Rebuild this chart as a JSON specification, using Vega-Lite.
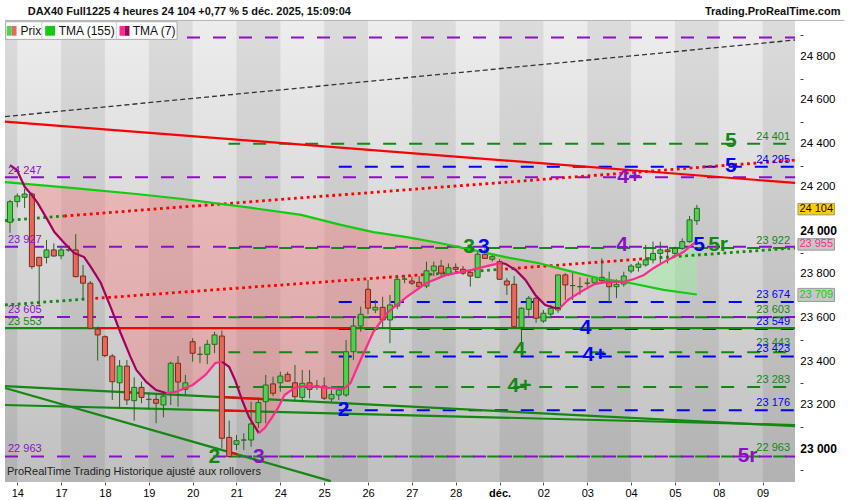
{
  "$schema": "https://vega.github.io/schema/vega-lite/v6.json",
  "width": 800,
  "height": 482,
  "autosize": {"type": "none"},
  "padding": {"left": 0, "top": 0, "right": 50, "bottom": 18},
  "background": "white",
  "datasets": {
    "bg": [{"t1": -0.68, "t2": 107.43}],
    "days": [
      {"d1": -0.68, "d2": 1}, {"d1": 7, "d2": 13}, {"d1": 19, "d2": 25}, {"d1": 31, "d2": 37},
      {"d1": 43, "d2": 49}, {"d1": 55, "d2": 61}, {"d1": 67, "d2": 73}, {"d1": 79, "d2": 85},
      {"d1": 91, "d2": 97}, {"d1": 103, "d2": 107.43}
    ],
    "ylab": [
      {"v": 23000, "text": "23 000"}, {"v": 23200, "text": "23 200"}, {"v": 23400, "text": "23 400"},
      {"v": 23600, "text": "23 600"}, {"v": 23800, "text": "23 800"}, {"v": 24000, "text": "24 000"},
      {"v": 24200, "text": "24 200"}, {"v": 24400, "text": "24 400"}, {"v": 24600, "text": "24 600"},
      {"v": 24800, "text": "24 800"}
    ],
    "band": [
      {"t": 1.7, "a": 24218, "b": 24218, "z": "zR"}, {"t": 2.97, "a": 24166, "b": 24214, "z": "zR"},
      {"t": 3.78, "a": 24129, "b": 24212, "z": "zR"}, {"t": 5.14, "a": 24051, "b": 24208, "z": "zR"},
      {"t": 6.08, "a": 23995, "b": 24205, "z": "zR"}, {"t": 7.43, "a": 23945, "b": 24201, "z": "zR"},
      {"t": 8.78, "a": 23899, "b": 24197, "z": "zR"}, {"t": 10.14, "a": 23880, "b": 24193, "z": "zR"},
      {"t": 11.08, "a": 23834, "b": 24190, "z": "zR"}, {"t": 12.43, "a": 23761, "b": 24185, "z": "zR"},
      {"t": 13.78, "a": 23650, "b": 24181, "z": "zR"}, {"t": 15.14, "a": 23531, "b": 24177, "z": "zR"},
      {"t": 16.49, "a": 23421, "b": 24173, "z": "zR"}, {"t": 18.65, "a": 23306, "b": 24165, "z": "zR"},
      {"t": 20, "a": 23269, "b": 24160, "z": "zR"}, {"t": 21.35, "a": 23255, "b": 24155, "z": "zR"},
      {"t": 22.7, "a": 23260, "b": 24150, "z": "zR"}, {"t": 25, "a": 23292, "b": 24141, "z": "zR"},
      {"t": 26.76, "a": 23338, "b": 24134, "z": "zR"}, {"t": 28.1, "a": 23393, "b": 24128, "z": "zR"},
      {"t": 29.05, "a": 23398, "b": 24124, "z": "zR"}, {"t": 30, "a": 23375, "b": 24119, "z": "zR"},
      {"t": 30.8, "a": 23315, "b": 24116, "z": "zR"}, {"t": 31.76, "a": 23223, "b": 24112, "z": "zR"},
      {"t": 32.7, "a": 23145, "b": 24108, "z": "zR"}, {"t": 34.05, "a": 23071, "b": 24102, "z": "zR"},
      {"t": 34.86, "a": 23094, "b": 24098, "z": "zR"}, {"t": 35.8, "a": 23140, "b": 24094, "z": "zR"},
      {"t": 36.76, "a": 23191, "b": 24089, "z": "zR"}, {"t": 37.57, "a": 23246, "b": 24085, "z": "zR"},
      {"t": 38.9, "a": 23278, "b": 24078, "z": "zR"}, {"t": 40.27, "a": 23287, "b": 24071, "z": "zR"},
      {"t": 42.16, "a": 23283, "b": 24054, "z": "zR"}, {"t": 43.9, "a": 23278, "b": 24040, "z": "zR"},
      {"t": 45.68, "a": 23274, "b": 24025, "z": "zR"}, {"t": 46.6, "a": 23301, "b": 24018, "z": "zR"},
      {"t": 47.97, "a": 23407, "b": 24008, "z": "zR"}, {"t": 48.92, "a": 23476, "b": 24001, "z": "zR"},
      {"t": 49.73, "a": 23536, "b": 23995, "z": "zR"}, {"t": 51.6, "a": 23623, "b": 23986, "z": "zR"},
      {"t": 54.3, "a": 23697, "b": 23972, "z": "zR"}, {"t": 57, "a": 23761, "b": 23956, "z": "zR"},
      {"t": 59.73, "a": 23798, "b": 23940, "z": "zR"}, {"t": 63.24, "a": 23821, "b": 23913, "z": "zR"},
      {"t": 65.95, "a": 23844, "b": 23893, "z": "zR"}, {"t": 67.84, "a": 23848, "b": 23880, "z": "zR"},
      {"t": 69.2, "a": 23821, "b": 23874, "z": "zR"}, {"t": 70.54, "a": 23775, "b": 23866, "z": "zR"},
      {"t": 71.89, "a": 23706, "b": 23856, "z": "zR"}, {"t": 73.24, "a": 23660, "b": 23846, "z": "zR"},
      {"t": 74.6, "a": 23646, "b": 23832, "z": "zR"}, {"t": 75.27, "a": 23646, "b": 23827, "z": "zR"},
      {"t": 76.35, "a": 23683, "b": 23817, "z": "zR"}, {"t": 78.1, "a": 23720, "b": 23803, "z": "zR"},
      {"t": 80, "a": 23756, "b": 23787, "z": "zR"}, {"t": 81.76, "a": 23766, "b": 23777, "z": "zR"},
      {"t": 84.05, "a": 23766, "b": 23765, "z": "zR"},
      {"t": 84.05, "a": 23766, "b": 23765, "z": "zG"}, {"t": 85.4, "a": 23779, "b": 23758, "z": "zG"},
      {"t": 86.76, "a": 23798, "b": 23749, "z": "zG"}, {"t": 88.1, "a": 23830, "b": 23739, "z": "zG"},
      {"t": 89.46, "a": 23857, "b": 23729, "z": "zG"}, {"t": 90.8, "a": 23880, "b": 23722, "z": "zG"},
      {"t": 92.16, "a": 23903, "b": 23716, "z": "zG"}, {"t": 94, "a": 23955, "b": 23708, "z": "zG"}
    ],
    "m155": [
      {"t": -0.68, "v": 24225}, {"t": 8.38, "v": 24198}, {"t": 17.3, "v": 24170}, {"t": 23.65, "v": 24147},
      {"t": 33.1, "v": 24106}, {"t": 39.86, "v": 24074}, {"t": 45.27, "v": 24028}, {"t": 49.73, "v": 23995},
      {"t": 54.32, "v": 23972}, {"t": 58.78, "v": 23945}, {"t": 63.24, "v": 23913}, {"t": 67.84, "v": 23880},
      {"t": 72.3, "v": 23853}, {"t": 75.95, "v": 23821}, {"t": 80.4, "v": 23784}, {"t": 84.86, "v": 23761},
      {"t": 89.46, "v": 23729}, {"t": 94, "v": 23708}
    ],
    "m7": [
      {"t": 0, "v": 24303, "s": "s1", "k": "dn"}, {"t": 0.95, "v": 24280, "s": "s1", "k": "dn"},
      {"t": 2.03, "v": 24202, "s": "s1", "k": "dn"}, {"t": 2.97, "v": 24166, "s": "s1", "k": "dn"},
      {"t": 3.78, "v": 24129, "s": "s1", "k": "dn"}, {"t": 5.14, "v": 24051, "s": "s1", "k": "dn"},
      {"t": 6.08, "v": 23995, "s": "s1", "k": "dn"}, {"t": 7.43, "v": 23945, "s": "s1", "k": "dn"},
      {"t": 8.78, "v": 23899, "s": "s1", "k": "dn"}, {"t": 10.14, "v": 23880, "s": "s1", "k": "dn"},
      {"t": 11.08, "v": 23834, "s": "s1", "k": "dn"}, {"t": 12.43, "v": 23761, "s": "s1", "k": "dn"},
      {"t": 13.78, "v": 23650, "s": "s1", "k": "dn"}, {"t": 15.14, "v": 23531, "s": "s1", "k": "dn"},
      {"t": 16.49, "v": 23421, "s": "s1", "k": "dn"}, {"t": 17.3, "v": 23361, "s": "s1", "k": "dn"},
      {"t": 18.65, "v": 23306, "s": "s1", "k": "dn"}, {"t": 20, "v": 23269, "s": "s1", "k": "dn"},
      {"t": 21.35, "v": 23255, "s": "s1", "k": "dn"},
      {"t": 21.35, "v": 23255, "s": "s2", "k": "up"}, {"t": 22.7, "v": 23260, "s": "s2", "k": "up"},
      {"t": 25, "v": 23292, "s": "s2", "k": "up"}, {"t": 26.76, "v": 23338, "s": "s2", "k": "up"},
      {"t": 28.1, "v": 23393, "s": "s2", "k": "up"}, {"t": 29.05, "v": 23398, "s": "s2", "k": "up"},
      {"t": 29.05, "v": 23398, "s": "s3", "k": "dn"}, {"t": 30, "v": 23375, "s": "s3", "k": "dn"},
      {"t": 30.8, "v": 23315, "s": "s3", "k": "dn"}, {"t": 31.76, "v": 23223, "s": "s3", "k": "dn"},
      {"t": 32.7, "v": 23145, "s": "s3", "k": "dn"}, {"t": 34.05, "v": 23071, "s": "s3", "k": "dn"},
      {"t": 34.05, "v": 23071, "s": "s4", "k": "up"}, {"t": 34.86, "v": 23094, "s": "s4", "k": "up"},
      {"t": 35.8, "v": 23140, "s": "s4", "k": "up"}, {"t": 36.76, "v": 23191, "s": "s4", "k": "up"},
      {"t": 37.57, "v": 23246, "s": "s4", "k": "up"}, {"t": 38.9, "v": 23278, "s": "s4", "k": "up"},
      {"t": 40.27, "v": 23287, "s": "s4", "k": "up"}, {"t": 42.16, "v": 23283, "s": "s4", "k": "up"},
      {"t": 43.9, "v": 23278, "s": "s4", "k": "up"}, {"t": 45.68, "v": 23274, "s": "s4", "k": "up"},
      {"t": 46.6, "v": 23301, "s": "s4", "k": "up"}, {"t": 47.97, "v": 23407, "s": "s4", "k": "up"},
      {"t": 48.92, "v": 23476, "s": "s4", "k": "up"}, {"t": 49.73, "v": 23536, "s": "s4", "k": "up"},
      {"t": 51.6, "v": 23623, "s": "s4", "k": "up"}, {"t": 54.3, "v": 23697, "s": "s4", "k": "up"},
      {"t": 57, "v": 23761, "s": "s4", "k": "up"}, {"t": 59.73, "v": 23798, "s": "s4", "k": "up"},
      {"t": 63.24, "v": 23821, "s": "s4", "k": "up"}, {"t": 65.95, "v": 23844, "s": "s4", "k": "up"},
      {"t": 67.3, "v": 23853, "s": "s4", "k": "up"},
      {"t": 67.3, "v": 23853, "s": "s5", "k": "dn"}, {"t": 67.84, "v": 23848, "s": "s5", "k": "dn"},
      {"t": 69.2, "v": 23821, "s": "s5", "k": "dn"}, {"t": 70.54, "v": 23775, "s": "s5", "k": "dn"},
      {"t": 71.89, "v": 23706, "s": "s5", "k": "dn"}, {"t": 73.24, "v": 23660, "s": "s5", "k": "dn"},
      {"t": 74.6, "v": 23646, "s": "s5", "k": "dn"}, {"t": 75.27, "v": 23646, "s": "s5", "k": "dn"},
      {"t": 75.27, "v": 23646, "s": "s6", "k": "up"}, {"t": 76.35, "v": 23683, "s": "s6", "k": "up"},
      {"t": 78.1, "v": 23720, "s": "s6", "k": "up"}, {"t": 80, "v": 23756, "s": "s6", "k": "up"},
      {"t": 81.76, "v": 23766, "s": "s6", "k": "up"}, {"t": 84.05, "v": 23766, "s": "s6", "k": "up"},
      {"t": 85.4, "v": 23779, "s": "s6", "k": "up"}, {"t": 86.76, "v": 23798, "s": "s6", "k": "up"},
      {"t": 88.1, "v": 23830, "s": "s6", "k": "up"}, {"t": 89.46, "v": 23857, "s": "s6", "k": "up"},
      {"t": 90.8, "v": 23880, "s": "s6", "k": "up"}, {"t": 92.16, "v": 23903, "s": "s6", "k": "up"},
      {"t": 94, "v": 23955, "s": "s6", "k": "up"}
    ],
    "lv": [
      {"v": 24890, "t1": -0.68, "t2": 107.43, "c": "P"}, {"v": 24247, "t1": -0.68, "t2": 107.43, "c": "P"},
      {"v": 23927, "t1": -0.68, "t2": 107.43, "c": "P"}, {"v": 23605, "t1": -0.68, "t2": 107.43, "c": "P"},
      {"v": 22963, "t1": -0.68, "t2": 107.43, "c": "P"},
      {"v": 24401, "t1": 29.9, "t2": 107.43, "c": "G"}, {"v": 23922, "t1": 29.9, "t2": 107.43, "c": "G"},
      {"v": 23603, "t1": 29.9, "t2": 107.43, "c": "G"}, {"v": 23443, "t1": 29.9, "t2": 107.43, "c": "G"},
      {"v": 23283, "t1": 29.9, "t2": 107.43, "c": "G"}, {"v": 22963, "t1": 29.9, "t2": 107.43, "c": "G"},
      {"v": 24295, "t1": 44.9, "t2": 107.43, "c": "B"}, {"v": 23674, "t1": 44.9, "t2": 107.43, "c": "B"},
      {"v": 23549, "t1": 44.9, "t2": 107.43, "c": "B"}, {"v": 23423, "t1": 44.9, "t2": 107.43, "c": "B"},
      {"v": 23176, "t1": 44.9, "t2": 107.43, "c": "B"}
    ],
    "tl": [
      {"t1": -0.68, "v1": 24503, "t2": 107.43, "v2": 24221, "c": "R"},
      {"t1": -0.68, "v1": 23287, "t2": 107.43, "v2": 23103, "c": "G"},
      {"t1": -0.68, "v1": 23200, "t2": 107.43, "v2": 23108, "c": "G"},
      {"t1": -0.68, "v1": 23278, "t2": 43.9, "v2": 22850, "c": "G"},
      {"t1": -0.68, "v1": 23553, "t2": 11.9, "v2": 23553, "c": "G"},
      {"t1": 11.9, "v1": 23553, "t2": 46.9, "v2": 23553, "c": "R"},
      {"t1": 46.9, "v1": 23553, "t2": 107.43, "v2": 23553, "c": "G"},
      {"t1": 28.78, "v1": 23237, "t2": 34.86, "v2": 23227, "c": "R"},
      {"t1": 28.78, "v1": 23175, "t2": 34.05, "v2": 23171, "c": "R"},
      {"t1": 30.1, "v1": 22982, "t2": 31.08, "v2": 22974, "c": "R"},
      {"t1": 15.81, "v1": 23259, "t2": 17.16, "v2": 23257, "c": "R"}
    ],
    "dotted": [
      {"t1": -0.68, "v1": 24048, "t2": 7.43, "v2": 24069, "c": "G"},
      {"t1": 7.43, "v1": 24069, "t2": 107.43, "v2": 24326, "c": "R"},
      {"t1": -0.68, "v1": 23660, "t2": 10.81, "v2": 23688, "c": "G"},
      {"t1": 10.81, "v1": 23688, "t2": 57.43, "v2": 23801, "c": "R"},
      {"t1": 57.43, "v1": 23801, "t2": 66.89, "v2": 23823, "c": "G"},
      {"t1": 66.89, "v1": 23823, "t2": 87.16, "v2": 23873, "c": "R"},
      {"t1": 87.16, "v1": 23873, "t2": 107.43, "v2": 23922, "c": "G"}
    ],
    "dashedK": [{"t1": -0.68, "v1": 24526, "t2": 107.43, "v2": 24878, "c": "K"}],
    "candles": [
      {"t": 0, "o": 24040, "h": 24143, "l": 23992, "c": 24135}, {"t": 1, "o": 24135, "h": 24173, "l": 24109, "c": 24161},
      {"t": 2, "o": 24155, "h": 24193, "l": 24106, "c": 24170}, {"t": 3, "o": 24170, "h": 24176, "l": 23825, "c": 23836},
      {"t": 4, "o": 23879, "h": 23880, "l": 23652, "c": 23840}, {"t": 5, "o": 23879, "h": 23959, "l": 23851, "c": 23913},
      {"t": 6, "o": 23913, "h": 23943, "l": 23882, "c": 23885}, {"t": 7, "o": 23886, "h": 23925, "l": 23870, "c": 23913},
      {"t": 8, "o": 23913, "h": 23920, "l": 23905, "c": 23913}, {"t": 9, "o": 23913, "h": 23986, "l": 23787, "c": 23790},
      {"t": 10, "o": 23793, "h": 23844, "l": 23683, "c": 23760}, {"t": 11, "o": 23760, "h": 23770, "l": 23548, "c": 23553},
      {"t": 12, "o": 23549, "h": 23560, "l": 23404, "c": 23522}, {"t": 13, "o": 23514, "h": 23520, "l": 23420, "c": 23427},
      {"t": 14, "o": 23425, "h": 23434, "l": 23223, "c": 23307}, {"t": 15, "o": 23302, "h": 23407, "l": 23189, "c": 23379},
      {"t": 16, "o": 23379, "h": 23407, "l": 23200, "c": 23223}, {"t": 17, "o": 23220, "h": 23327, "l": 23128, "c": 23281},
      {"t": 18, "o": 23281, "h": 23307, "l": 23208, "c": 23235}, {"t": 19, "o": 23226, "h": 23257, "l": 23180, "c": 23226},
      {"t": 20, "o": 23226, "h": 23254, "l": 23116, "c": 23208}, {"t": 21, "o": 23200, "h": 23261, "l": 23143, "c": 23241},
      {"t": 22, "o": 23257, "h": 23399, "l": 23200, "c": 23392}, {"t": 23, "o": 23392, "h": 23425, "l": 23192, "c": 23306},
      {"t": 24, "o": 23272, "h": 23338, "l": 23246, "c": 23302}, {"t": 25, "o": 23491, "h": 23507, "l": 23399, "c": 23438},
      {"t": 26, "o": 23433, "h": 23468, "l": 23392, "c": 23433}, {"t": 27, "o": 23433, "h": 23499, "l": 23388, "c": 23479},
      {"t": 28, "o": 23479, "h": 23537, "l": 23438, "c": 23522}, {"t": 29, "o": 23517, "h": 23542, "l": 23001, "c": 23047},
      {"t": 30, "o": 23051, "h": 23128, "l": 22962, "c": 22963}, {"t": 31, "o": 23019, "h": 23062, "l": 22993, "c": 23036},
      {"t": 32, "o": 23039, "h": 23070, "l": 22993, "c": 23039}, {"t": 33, "o": 23039, "h": 23215, "l": 23008, "c": 23113},
      {"t": 34, "o": 23119, "h": 23235, "l": 23093, "c": 23211}, {"t": 35, "o": 23215, "h": 23338, "l": 23116, "c": 23292},
      {"t": 36, "o": 23297, "h": 23330, "l": 23241, "c": 23254}, {"t": 37, "o": 23302, "h": 23353, "l": 23261, "c": 23333},
      {"t": 38, "o": 23341, "h": 23353, "l": 23307, "c": 23310}, {"t": 39, "o": 23302, "h": 23384, "l": 23223, "c": 23238},
      {"t": 40, "o": 23235, "h": 23361, "l": 23215, "c": 23300}, {"t": 41, "o": 23302, "h": 23361, "l": 23231, "c": 23272},
      {"t": 42, "o": 23287, "h": 23315, "l": 23269, "c": 23287}, {"t": 43, "o": 23287, "h": 23327, "l": 23223, "c": 23231},
      {"t": 44, "o": 23228, "h": 23269, "l": 23215, "c": 23249}, {"t": 45, "o": 23246, "h": 23287, "l": 23223, "c": 23269},
      {"t": 46, "o": 23246, "h": 23499, "l": 23238, "c": 23445}, {"t": 47, "o": 23445, "h": 23606, "l": 23407, "c": 23563},
      {"t": 48, "o": 23563, "h": 23652, "l": 23537, "c": 23617}, {"t": 49, "o": 23732, "h": 23775, "l": 23618, "c": 23645},
      {"t": 50, "o": 23637, "h": 23683, "l": 23622, "c": 23649}, {"t": 51, "o": 23649, "h": 23698, "l": 23553, "c": 23591},
      {"t": 52, "o": 23591, "h": 23706, "l": 23484, "c": 23660}, {"t": 53, "o": 23655, "h": 23798, "l": 23640, "c": 23778},
      {"t": 54, "o": 23779, "h": 23798, "l": 23760, "c": 23779}, {"t": 55, "o": 23770, "h": 23790, "l": 23752, "c": 23760},
      {"t": 56, "o": 23764, "h": 23793, "l": 23737, "c": 23744}, {"t": 57, "o": 23747, "h": 23859, "l": 23737, "c": 23817},
      {"t": 58, "o": 23817, "h": 23859, "l": 23793, "c": 23839}, {"t": 59, "o": 23839, "h": 23867, "l": 23793, "c": 23806},
      {"t": 60, "o": 23802, "h": 23851, "l": 23793, "c": 23831}, {"t": 61, "o": 23833, "h": 23851, "l": 23806, "c": 23824},
      {"t": 62, "o": 23824, "h": 23839, "l": 23798, "c": 23806}, {"t": 63, "o": 23810, "h": 23824, "l": 23744, "c": 23793},
      {"t": 64, "o": 23787, "h": 23905, "l": 23783, "c": 23893}, {"t": 65, "o": 23893, "h": 23920, "l": 23874, "c": 23874},
      {"t": 66, "o": 23870, "h": 23893, "l": 23859, "c": 23882}, {"t": 67, "o": 23859, "h": 23870, "l": 23775, "c": 23778},
      {"t": 68, "o": 23770, "h": 23783, "l": 23706, "c": 23752}, {"t": 69, "o": 23755, "h": 23793, "l": 23557, "c": 23560},
      {"t": 70, "o": 23557, "h": 23649, "l": 23443, "c": 23645}, {"t": 71, "o": 23640, "h": 23701, "l": 23609, "c": 23691},
      {"t": 72, "o": 23691, "h": 23698, "l": 23578, "c": 23599}, {"t": 73, "o": 23586, "h": 23637, "l": 23578, "c": 23622},
      {"t": 74, "o": 23618, "h": 23660, "l": 23606, "c": 23645}, {"t": 75, "o": 23637, "h": 23798, "l": 23624, "c": 23798},
      {"t": 76, "o": 23798, "h": 23806, "l": 23683, "c": 23752}, {"t": 77, "o": 23749, "h": 23813, "l": 23683, "c": 23749},
      {"t": 78, "o": 23744, "h": 23787, "l": 23706, "c": 23744}, {"t": 79, "o": 23760, "h": 23783, "l": 23744, "c": 23760},
      {"t": 80, "o": 23762, "h": 23787, "l": 23760, "c": 23787}, {"t": 81, "o": 23787, "h": 23874, "l": 23767, "c": 23771},
      {"t": 82, "o": 23775, "h": 23813, "l": 23668, "c": 23744}, {"t": 83, "o": 23744, "h": 23778, "l": 23691, "c": 23755},
      {"t": 84, "o": 23756, "h": 23813, "l": 23744, "c": 23793}, {"t": 85, "o": 23816, "h": 23848, "l": 23806, "c": 23839},
      {"t": 86, "o": 23833, "h": 23859, "l": 23813, "c": 23848}, {"t": 87, "o": 23844, "h": 23936, "l": 23836, "c": 23867},
      {"t": 88, "o": 23867, "h": 23951, "l": 23851, "c": 23897}, {"t": 89, "o": 23897, "h": 23951, "l": 23851, "c": 23913},
      {"t": 90, "o": 23913, "h": 23928, "l": 23851, "c": 23905}, {"t": 91, "o": 23897, "h": 23928, "l": 23882, "c": 23920},
      {"t": 92, "o": 23920, "h": 23966, "l": 23913, "c": 23951}, {"t": 93, "o": 23951, "h": 24069, "l": 23946, "c": 24051},
      {"t": 94, "o": 24047, "h": 24120, "l": 24028, "c": 24104}
    ],
    "llLeft": [
      {"t": -0.27, "v": 24276, "text": "24 247", "c": "P"}, {"t": -0.27, "v": 23959, "text": "23 927", "c": "P"},
      {"t": -0.27, "v": 23637, "text": "23 605", "c": "P"}, {"t": -0.27, "v": 23582, "text": "23 553", "c": "G"},
      {"t": -0.27, "v": 22998, "text": "22 963", "c": "P"}
    ],
    "llRight": [
      {"t": 106.75, "v": 24434, "text": "24 401", "c": "G"}, {"t": 106.75, "v": 24326, "text": "24 295", "c": "B"},
      {"t": 106.75, "v": 23955, "text": "23 922", "c": "G"}, {"t": 106.75, "v": 23706, "text": "23 674", "c": "B"},
      {"t": 106.75, "v": 23637, "text": "23 603", "c": "G"}, {"t": 106.75, "v": 23582, "text": "23 549", "c": "B"},
      {"t": 106.75, "v": 23484, "text": "23 443", "c": "G"}, {"t": 106.75, "v": 23457, "text": "23 423", "c": "B"},
      {"t": 106.75, "v": 23315, "text": "23 283", "c": "G"}, {"t": 106.75, "v": 23211, "text": "23 176", "c": "B"},
      {"t": 106.75, "v": 23001, "text": "22 963", "c": "G"}
    ],
    "waves": [
      {"t": 98.65, "v": 24414, "text": "5", "c": "G"}, {"t": 98.65, "v": 24299, "text": "5", "c": "B"},
      {"t": 84.73, "v": 24248, "text": "4+", "c": "P"}, {"t": 83.78, "v": 23936, "text": "4", "c": "P"},
      {"t": 94.32, "v": 23936, "text": "5", "c": "B"}, {"t": 96.9, "v": 23936, "text": "5r", "c": "G"},
      {"t": 62.83, "v": 23927, "text": "3", "c": "G"}, {"t": 64.85, "v": 23927, "text": "3", "c": "B"},
      {"t": 78.78, "v": 23554, "text": "4", "c": "B"}, {"t": 69.73, "v": 23453, "text": "4", "c": "G"},
      {"t": 79.99, "v": 23430, "text": "4+", "c": "B"}, {"t": 69.73, "v": 23287, "text": "4+", "c": "G"},
      {"t": 45.67, "v": 23177, "text": "2", "c": "B"}, {"t": 27.97, "v": 22961, "text": "2", "c": "G"},
      {"t": 34.05, "v": 22961, "text": "3", "c": "P"}, {"t": 100.94, "v": 22965, "text": "5r", "c": "P"}
    ],
    "swatch": [
      {"t1": -0.45, "t2": 0.23, "c": "cg"}, {"t1": 0.23, "t2": 0.9, "c": "cr"},
      {"t1": 4.82, "t2": 6.17, "c": "M155"},
      {"t1": 14.99, "t2": 15.67, "c": "up"}, {"t1": 15.67, "t2": 16.35, "c": "dn"}
    ],
    "legendText": [
      {"t": 1.44, "text": "Prix"}, {"t": 6.66, "text": "TMA (155)"}, {"t": 16.8, "text": "TMA (7)"}
    ],
    "legendSep": [{"t": 4.36}, {"t": 14.55}],
    "boxes": [
      {"v": 24101, "hi": 24127, "lo": 24074, "text": "24 104", "bc": "boxY", "tc": "T"},
      {"v": 23939, "hi": 23965, "lo": 23912, "text": "23 955", "bc": "boxG", "tc": "up"},
      {"v": 23706, "hi": 23736, "lo": 23676, "text": "23 709", "bc": "boxG", "tc": "M155"}
    ]
  },
  "layer": [
    {
      "data": {"name": "bg"},
      "mark": {
        "type": "rect",
        "color": {"gradient": "linear", "x1": 0, "y1": 0, "x2": 0, "y2": 1,
          "stops": [{"offset": 0, "color": "#efefef"}, {"offset": 1, "color": "#c0c0c0"}]}
      },
      "encoding": {
        "x": {"field": "t1", "type": "quantitative", "title": null,
          "scale": {"domain": [-0.68, 107.43], "nice": false, "zero": false},
          "axis": {
            "orient": "bottom", "title": null, "grid": false, "domain": false,
            "values": [1, 7, 13, 19, 25, 31, 37, 43, 49, 55, 61, 67, 73, 79, 85, 91, 97, 103],
            "labelExpr": "split('14,17,18,19,20,21,24,25,26,27,28,déc.,02,03,04,05,08,09', ',')[round((datum.value - 1) / 6)]",
            "tickSize": 3, "tickColor": "#555", "labelFontSize": 11, "labelColor": "#000",
            "labelFontWeight": {"condition": {"test": "datum.value === 67", "value": "bold"}, "value": "normal"},
            "labelPadding": 2, "labelFlush": false, "labelOverlap": false
          }},
        "x2": {"field": "t2"}
      }
    },
    {
      "data": {"name": "days"},
      "mark": {"type": "rect", "color": "#000000", "opacity": 0.07},
      "encoding": {
        "x": {"field": "d1", "type": "quantitative", "title": null},
        "x2": {"field": "d2"}
      }
    },
    {
      "data": {"name": "band"},
      "mark": {"type": "area", "opacity": 0.35},
      "encoding": {
        "x": {"field": "t", "type": "quantitative", "title": null},
        "y": {"field": "a", "type": "quantitative", "title": null},
        "y2": {"field": "b"},
        "color": {"field": "z", "type": "nominal", "legend": null,
          "scale": {"domain": ["P","G","B","R","K","M155","up","dn","zR","zG","cg","cr","boxY","boxG","T"],
            "range": ["#8a10c8","#138813","#0000ff","#ff0000","#333333","#11cc11","#ff2a8c","#a3005c","#ff7070","#8cff8c","#4fd14f","#e56a5c","#ffcc00","#c6c6c6","#111111"]}}
      }
    },
    {
      "data": {"name": "dashedK"},
      "mark": {"type": "rule", "strokeDash": [5, 3], "strokeWidth": 1.3},
      "encoding": {
        "x": {"field": "t1", "type": "quantitative", "title": null},
        "y": {"field": "v1", "type": "quantitative", "title": null},
        "x2": {"field": "t2"}, "y2": {"field": "v2"},
        "color": {"field": "c", "type": "nominal", "legend": null,
          "scale": {"domain": ["P","G","B","R","K","M155","up","dn","zR","zG","cg","cr","boxY","boxG","T"],
            "range": ["#8a10c8","#138813","#0000ff","#ff0000","#333333","#11cc11","#ff2a8c","#a3005c","#ff7070","#8cff8c","#4fd14f","#e56a5c","#ffcc00","#c6c6c6","#111111"]}}
      }
    },
    {
      "data": {"name": "lv"},
      "transform": [{"filter": "datum.c === 'G'"}],
      "mark": {"type": "rule", "strokeDash": [13, 13], "strokeDashOffset": 1.3, "strokeWidth": 2},
      "encoding": {
        "x": {"field": "t1", "type": "quantitative", "title": null},
        "x2": {"field": "t2"},
        "y": {"field": "v", "type": "quantitative", "title": null},
        "color": {"field": "c", "type": "nominal", "legend": null,
          "scale": {"domain": ["P","G","B","R","K","M155","up","dn","zR","zG","cg","cr","boxY","boxG","T"],
            "range": ["#8a10c8","#138813","#0000ff","#ff0000","#333333","#11cc11","#ff2a8c","#a3005c","#ff7070","#8cff8c","#4fd14f","#e56a5c","#ffcc00","#c6c6c6","#111111"]}}
      }
    },
    {
      "data": {"name": "lv"},
      "transform": [{"filter": "datum.c === 'B'"}],
      "mark": {"type": "rule", "strokeDash": [13, 13], "strokeDashOffset": 25.3, "strokeWidth": 2},
      "encoding": {
        "x": {"field": "t1", "type": "quantitative", "title": null},
        "x2": {"field": "t2"},
        "y": {"field": "v", "type": "quantitative", "title": null},
        "color": {"field": "c", "type": "nominal", "legend": null,
          "scale": {"domain": ["P","G","B","R","K","M155","up","dn","zR","zG","cg","cr","boxY","boxG","T"],
            "range": ["#8a10c8","#138813","#0000ff","#ff0000","#333333","#11cc11","#ff2a8c","#a3005c","#ff7070","#8cff8c","#4fd14f","#e56a5c","#ffcc00","#c6c6c6","#111111"]}}
      }
    },
    {
      "data": {"name": "lv"},
      "transform": [{"filter": "datum.c === 'P'"}],
      "mark": {"type": "rule", "strokeDash": [13, 13], "strokeDashOffset": 0, "strokeWidth": 2},
      "encoding": {
        "x": {"field": "t1", "type": "quantitative", "title": null},
        "x2": {"field": "t2"},
        "y": {"field": "v", "type": "quantitative", "title": null},
        "color": {"field": "c", "type": "nominal", "legend": null,
          "scale": {"domain": ["P","G","B","R","K","M155","up","dn","zR","zG","cg","cr","boxY","boxG","T"],
            "range": ["#8a10c8","#138813","#0000ff","#ff0000","#333333","#11cc11","#ff2a8c","#a3005c","#ff7070","#8cff8c","#4fd14f","#e56a5c","#ffcc00","#c6c6c6","#111111"]}}
      }
    },
    {
      "data": {"name": "tl"},
      "mark": {"type": "rule", "strokeWidth": 2.2},
      "encoding": {
        "x": {"field": "t1", "type": "quantitative", "title": null},
        "y": {"field": "v1", "type": "quantitative", "title": null},
        "x2": {"field": "t2"}, "y2": {"field": "v2"},
        "color": {"field": "c", "type": "nominal", "legend": null,
          "scale": {"domain": ["P","G","B","R","K","M155","up","dn","zR","zG","cg","cr","boxY","boxG","T"],
            "range": ["#8a10c8","#138813","#0000ff","#ff0000","#333333","#11cc11","#ff2a8c","#a3005c","#ff7070","#8cff8c","#4fd14f","#e56a5c","#ffcc00","#c6c6c6","#111111"]}}
      }
    },
    {
      "data": {"name": "dotted"},
      "mark": {"type": "rule", "strokeWidth": 2.8, "strokeDash": [2.8, 3.6]},
      "encoding": {
        "x": {"field": "t1", "type": "quantitative", "title": null},
        "y": {"field": "v1", "type": "quantitative", "title": null},
        "x2": {"field": "t2"}, "y2": {"field": "v2"},
        "color": {"field": "c", "type": "nominal", "legend": null,
          "scale": {"domain": ["P","G","B","R","K","M155","up","dn","zR","zG","cg","cr","boxY","boxG","T"],
            "range": ["#8a10c8","#138813","#0000ff","#ff0000","#333333","#11cc11","#ff2a8c","#a3005c","#ff7070","#8cff8c","#4fd14f","#e56a5c","#ffcc00","#c6c6c6","#111111"]}}
      }
    },
    {
      "data": {"name": "candles"},
      "mark": {"type": "rule", "color": "#2f5f25", "strokeWidth": 1},
      "encoding": {
        "x": {"field": "t", "type": "quantitative", "title": null},
        "y": {"field": "l", "type": "quantitative", "title": null,
          "scale": {"domain": [22846, 25062], "nice": false, "zero": false},
          "axis": {
            "orient": "right", "title": null, "grid": false, "domain": false, "labels": false,
            "values": [22900, 23000, 23100, 23200, 23300, 23400, 23500, 23600, 23700, 23800, 23900, 24000, 24100, 24200, 24300, 24400, 24500, 24600, 24700, 24800, 24900],
            "tickSize": 3, "tickColor": "#444"
          }},
        "y2": {"field": "h"}
      }
    },
    {
      "data": {"name": "candles"},
      "mark": {"type": "bar", "size": 5, "strokeWidth": 1},
      "encoding": {
        "x": {"field": "t", "type": "quantitative", "title": null},
        "y": {"field": "o", "type": "quantitative", "title": null},
        "y2": {"field": "c"},
        "fill": {"condition": {"test": "datum.c >= datum.o", "value": "#4fd14f"}, "value": "#e56a5c"},
        "stroke": {"condition": {"test": "datum.c >= datum.o", "value": "#276a22"}, "value": "#7a2a1e"}
      }
    },
    {
      "data": {"name": "m155"},
      "mark": {"type": "line", "color": "#11cc11", "strokeWidth": 2.2},
      "encoding": {
        "x": {"field": "t", "type": "quantitative", "title": null},
        "y": {"field": "v", "type": "quantitative", "title": null}
      }
    },
    {
      "data": {"name": "m7"},
      "mark": {"type": "line", "strokeWidth": 2.2},
      "encoding": {
        "x": {"field": "t", "type": "quantitative", "title": null},
        "y": {"field": "v", "type": "quantitative", "title": null},
        "detail": {"field": "s", "type": "nominal"},
        "color": {"field": "k", "type": "nominal", "legend": null,
          "scale": {"domain": ["P","G","B","R","K","M155","up","dn","zR","zG","cg","cr","boxY","boxG","T"],
            "range": ["#8a10c8","#138813","#0000ff","#ff0000","#333333","#11cc11","#ff2a8c","#a3005c","#ff7070","#8cff8c","#4fd14f","#e56a5c","#ffcc00","#c6c6c6","#111111"]}}
      }
    },
    {
      "data": {"name": "llLeft"},
      "mark": {"type": "text", "align": "left", "baseline": "middle", "fontSize": 11},
      "encoding": {
        "x": {"field": "t", "type": "quantitative", "title": null},
        "y": {"field": "v", "type": "quantitative", "title": null},
        "text": {"field": "text"},
        "color": {"field": "c", "type": "nominal", "legend": null,
          "scale": {"domain": ["P","G","B","R","K","M155","up","dn","zR","zG","cg","cr","boxY","boxG","T"],
            "range": ["#8a10c8","#138813","#0000ff","#ff0000","#333333","#11cc11","#ff2a8c","#a3005c","#ff7070","#8cff8c","#4fd14f","#e56a5c","#ffcc00","#c6c6c6","#111111"]}}
      }
    },
    {
      "data": {"name": "llRight"},
      "mark": {"type": "text", "align": "right", "baseline": "middle", "fontSize": 11},
      "encoding": {
        "x": {"field": "t", "type": "quantitative", "title": null},
        "y": {"field": "v", "type": "quantitative", "title": null},
        "text": {"field": "text"},
        "color": {"field": "c", "type": "nominal", "legend": null,
          "scale": {"domain": ["P","G","B","R","K","M155","up","dn","zR","zG","cg","cr","boxY","boxG","T"],
            "range": ["#8a10c8","#138813","#0000ff","#ff0000","#333333","#11cc11","#ff2a8c","#a3005c","#ff7070","#8cff8c","#4fd14f","#e56a5c","#ffcc00","#c6c6c6","#111111"]}}
      }
    },
    {
      "data": {"name": "waves"},
      "mark": {"type": "text", "align": "center", "baseline": "middle", "fontSize": 21, "fontWeight": "bold"},
      "encoding": {
        "x": {"field": "t", "type": "quantitative", "title": null},
        "y": {"field": "v", "type": "quantitative", "title": null},
        "text": {"field": "text"},
        "color": {"field": "c", "type": "nominal", "legend": null,
          "scale": {"domain": ["P","G","B","R","K","M155","up","dn","zR","zG","cg","cr","boxY","boxG","T"],
            "range": ["#8a10c8","#138813","#0000ff","#ff0000","#333333","#11cc11","#ff2a8c","#a3005c","#ff7070","#8cff8c","#4fd14f","#e56a5c","#ffcc00","#c6c6c6","#111111"]}}
      }
    },
    {
      "data": {"values": [{"note": "ProRealTime Trading  Historique ajusté aux rollovers"}]},
      "mark": {"type": "text", "align": "left", "baseline": "middle", "fontSize": 11, "color": "#222222"},
      "encoding": {
        "x": {"datum": -0.41, "type": "quantitative", "title": null},
        "y": {"datum": 22892, "type": "quantitative", "title": null},
        "text": {"field": "note"}
      }
    },
    {
      "data": {"name": "ylab"},
      "transform": [{"filter": "datum.v % 1000 != 0"}],
      "mark": {"type": "text", "align": "left", "baseline": "middle", "fontSize": 11.5, "color": "#000000"},
      "encoding": {
        "x": {"datum": 108.15, "type": "quantitative", "title": null},
        "y": {"field": "v", "type": "quantitative", "title": null},
        "text": {"field": "text"}
      }
    },
    {
      "data": {"name": "ylab"},
      "transform": [{"filter": "datum.v % 1000 == 0"}],
      "mark": {"type": "text", "align": "left", "baseline": "middle", "fontSize": 12, "fontWeight": "bold", "color": "#000000"},
      "encoding": {
        "x": {"datum": 108.15, "type": "quantitative", "title": null},
        "y": {"field": "v", "type": "quantitative", "title": null},
        "text": {"field": "text"}
      }
    },
    {
      "data": {"values": [{"a": 1}]},
      "mark": {"type": "rect", "color": "white"},
      "encoding": {
        "x": {"datum": -0.68, "type": "quantitative", "title": null},
        "x2": {"datum": 114.19},
        "y": {"datum": 24970, "type": "quantitative", "title": null},
        "y2": {"datum": 25062}
      }
    },
    {
      "data": {"values": [{"a": 1}]},
      "mark": {"type": "rule", "color": "#b5b5b5", "strokeWidth": 1},
      "encoding": {
        "x": {"datum": -0.68, "type": "quantitative", "title": null},
        "x2": {"datum": 114.19},
        "y": {"datum": 24968, "type": "quantitative", "title": null}
      }
    },
    {
      "data": {"values": [{"t": 2.43, "text": "DAX40 Full1225 4 heures 24 104 +0,77 % 5 déc. 2025, 15:09:04"}]},
      "mark": {"type": "text", "align": "left", "baseline": "middle", "fontSize": 11, "fontWeight": "bold", "color": "#111111"},
      "encoding": {
        "x": {"field": "t", "type": "quantitative", "title": null},
        "y": {"datum": 25007, "type": "quantitative", "title": null},
        "text": {"field": "text"}
      }
    },
    {
      "data": {"values": [{"t": 113.65, "text": "Trading.ProRealTime.com"}]},
      "mark": {"type": "text", "align": "right", "baseline": "middle", "fontSize": 11, "fontWeight": "bold", "color": "#111111"},
      "encoding": {
        "x": {"field": "t", "type": "quantitative", "title": null},
        "y": {"datum": 25007, "type": "quantitative", "title": null},
        "text": {"field": "text"}
      }
    },
    {
      "data": {"values": [{"a": 1}]},
      "mark": {"type": "rect", "fill": "white", "stroke": "#aaaaaa", "strokeWidth": 1},
      "encoding": {
        "x": {"datum": -0.6, "type": "quantitative", "title": null},
        "x2": {"datum": 22.87},
        "y": {"datum": 24962, "type": "quantitative", "title": null},
        "y2": {"datum": 24881}
      }
    },
    {
      "data": {"name": "legendSep"},
      "mark": {"type": "rule", "color": "#cccccc", "strokeWidth": 1},
      "encoding": {
        "x": {"field": "t", "type": "quantitative", "title": null},
        "y": {"datum": 24962, "type": "quantitative", "title": null},
        "y2": {"datum": 24881}
      }
    },
    {
      "data": {"name": "swatch"},
      "mark": {"type": "rect"},
      "encoding": {
        "x": {"field": "t1", "type": "quantitative", "title": null},
        "x2": {"field": "t2"},
        "y": {"datum": 24943, "type": "quantitative", "title": null},
        "y2": {"datum": 24898},
        "color": {"field": "c", "type": "nominal", "legend": null,
          "scale": {"domain": ["P","G","B","R","K","M155","up","dn","zR","zG","cg","cr","boxY","boxG","T"],
            "range": ["#8a10c8","#138813","#0000ff","#ff0000","#333333","#11cc11","#ff2a8c","#a3005c","#ff7070","#8cff8c","#4fd14f","#e56a5c","#ffcc00","#c6c6c6","#111111"]}}
      }
    },
    {
      "data": {"name": "legendText"},
      "mark": {"type": "text", "align": "left", "baseline": "middle", "fontSize": 12, "color": "#111111"},
      "encoding": {
        "x": {"field": "t", "type": "quantitative", "title": null},
        "y": {"datum": 24921, "type": "quantitative", "title": null},
        "text": {"field": "text"}
      }
    },
    {
      "data": {"name": "boxes"},
      "mark": {"type": "rect", "stroke": "#9a9a9a", "strokeWidth": 1},
      "encoding": {
        "x": {"datum": 107.83, "type": "quantitative", "title": null},
        "x2": {"datum": 112.84},
        "y": {"field": "hi", "type": "quantitative", "title": null},
        "y2": {"field": "lo"},
        "color": {"field": "bc", "type": "nominal", "legend": null,
          "scale": {"domain": ["P","G","B","R","K","M155","up","dn","zR","zG","cg","cr","boxY","boxG","T"],
            "range": ["#8a10c8","#138813","#0000ff","#ff0000","#333333","#11cc11","#ff2a8c","#a3005c","#ff7070","#8cff8c","#4fd14f","#e56a5c","#ffcc00","#c6c6c6","#111111"]}}
      }
    },
    {
      "data": {"name": "boxes"},
      "mark": {"type": "text", "align": "center", "baseline": "middle", "fontSize": 11},
      "encoding": {
        "x": {"datum": 110.34, "type": "quantitative", "title": null},
        "y": {"field": "v", "type": "quantitative", "title": null},
        "text": {"field": "text"},
        "color": {"field": "tc", "type": "nominal", "legend": null,
          "scale": {"domain": ["P","G","B","R","K","M155","up","dn","zR","zG","cg","cr","boxY","boxG","T"],
            "range": ["#8a10c8","#138813","#0000ff","#ff0000","#333333","#11cc11","#ff2a8c","#a3005c","#ff7070","#8cff8c","#4fd14f","#e56a5c","#ffcc00","#c6c6c6","#111111"]}}
      }
    }
  ],
  "config": {
    "font": "Liberation Sans",
    "view": {"stroke": null}
  }
}
